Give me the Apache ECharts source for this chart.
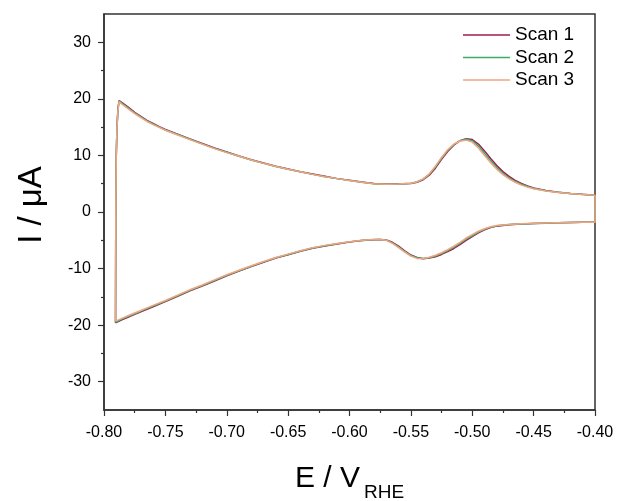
<!DOCTYPE html>
<html>
<head>
<meta charset="utf-8">
<script src="https://cdn.jsdelivr.net/npm/echarts@6/dist/echarts.min.js"></script>
<style>
html,body{margin:0;padding:0;background:#fff;}
#chart{width:617px;height:501px;}
</style>
</head>
<body>
<div id="chart"></div>
<script>
// Potential (V vs RHE) for the forward (upper) and reverse (lower) branches
const upperE = [-0.7906,-0.7904,-0.7900,-0.7894,-0.7886,-0.7877,-0.785,-0.780,-0.775,-0.770,-0.765,-0.760,-0.755,-0.750,-0.740,-0.730,-0.720,-0.710,-0.700,-0.690,-0.680,-0.670,-0.660,-0.650,-0.640,-0.630,-0.620,-0.610,-0.600,-0.590,-0.580,-0.570,-0.560,-0.550,-0.545,-0.540,-0.535,-0.530,-0.525,-0.520,-0.515,-0.510,-0.505,-0.500,-0.495,-0.490,-0.485,-0.480,-0.475,-0.470,-0.465,-0.460,-0.455,-0.450,-0.440,-0.430,-0.420,-0.410,-0.400];
const lowerE = [-0.400,-0.410,-0.420,-0.430,-0.440,-0.450,-0.460,-0.470,-0.480,-0.485,-0.490,-0.495,-0.500,-0.505,-0.510,-0.515,-0.520,-0.525,-0.530,-0.535,-0.540,-0.545,-0.550,-0.555,-0.560,-0.565,-0.570,-0.575,-0.580,-0.590,-0.600,-0.610,-0.620,-0.630,-0.640,-0.650,-0.660,-0.670,-0.680,-0.690,-0.700,-0.710,-0.720,-0.730,-0.740,-0.750,-0.760,-0.765,-0.770,-0.775,-0.780,-0.785,-0.7906];

// Currents (µA)
const scan1Up = [-19.6,0.0,10.0,15.2,18.3,19.7,19.3,18.5,17.6,16.9,16.2,15.65,15.1,14.6,13.75,12.9,12.1,11.3,10.6,9.9,9.25,8.65,8.1,7.6,7.1,6.7,6.3,5.9,5.6,5.3,5.05,4.95,4.95,5.05,5.25,5.7,6.5,7.75,9.3,10.7,11.8,12.6,12.95,12.8,12.0,10.8,9.45,8.2,7.15,6.3,5.6,5.05,4.6,4.25,3.8,3.5,3.28,3.12,2.97];
const scan1Down = [-1.8,-1.83,-1.86,-1.91,-1.97,-2.03,-2.12,-2.27,-2.5,-2.75,-3.15,-3.7,-4.35,-5.0,-5.75,-6.45,-7.0,-7.5,-7.9,-8.15,-8.25,-8.05,-7.6,-6.85,-6.05,-5.35,-4.95,-4.85,-4.9,-5.05,-5.3,-5.65,-6.0,-6.4,-6.95,-7.55,-8.15,-8.9,-9.65,-10.45,-11.3,-12.2,-13.1,-13.95,-14.9,-15.85,-16.75,-17.2,-17.65,-18.1,-18.55,-19.0,-19.6];
const scan2Up = [-19.5,0.0,10.0,15.1,18.2,19.6,19.15,18.35,17.5,16.8,16.1,15.55,15.0,14.5,13.7,12.85,12.05,11.25,10.55,9.85,9.2,8.6,8.05,7.55,7.1,6.65,6.25,5.9,5.55,5.25,5.0,4.9,4.95,5.08,5.3,5.8,6.65,7.95,9.5,10.9,11.9,12.6,12.85,12.6,11.65,10.4,9.05,7.85,6.85,6.05,5.4,4.9,4.5,4.15,3.75,3.47,3.26,3.1,2.95];
const scan2Down = [-1.8,-1.82,-1.85,-1.9,-1.96,-2.02,-2.1,-2.23,-2.45,-2.68,-3.05,-3.55,-4.2,-4.8,-5.55,-6.25,-6.82,-7.35,-7.78,-8.08,-8.23,-8.1,-7.7,-6.98,-6.18,-5.45,-4.98,-4.85,-4.88,-5.02,-5.28,-5.6,-5.95,-6.35,-6.9,-7.5,-8.1,-8.82,-9.58,-10.38,-11.2,-12.1,-13.0,-13.85,-14.8,-15.75,-16.62,-17.08,-17.52,-17.98,-18.42,-18.88,-19.5];
const scan3Up = [-19.3,0.0,10.0,15.0,18.0,19.5,19.0,18.2,17.4,16.7,16.0,15.45,14.95,14.45,13.6,12.8,12.0,11.2,10.5,9.85,9.2,8.6,8.05,7.55,7.1,6.65,6.25,5.9,5.55,5.25,5.0,4.9,4.95,5.1,5.35,5.85,6.75,8.1,9.65,11.0,12.0,12.55,12.7,12.35,11.3,10.0,8.7,7.55,6.6,5.85,5.25,4.75,4.4,4.1,3.7,3.45,3.25,3.1,2.95];
const scan3Down = [-1.8,-1.82,-1.85,-1.9,-1.95,-2.0,-2.08,-2.2,-2.4,-2.6,-2.95,-3.4,-4.0,-4.6,-5.35,-6.05,-6.65,-7.2,-7.65,-8.0,-8.25,-8.2,-7.8,-7.1,-6.3,-5.55,-5.0,-4.85,-4.85,-5.0,-5.25,-5.55,-5.9,-6.3,-6.85,-7.45,-8.05,-8.75,-9.5,-10.3,-11.1,-12.0,-12.9,-13.75,-14.7,-15.65,-16.5,-16.95,-17.4,-17.85,-18.3,-18.75,-19.3];

const seriesNames = ['Scan 1','Scan 2','Scan 3'];
const seriesColors = ['#9c1d4f','#3daa6a','#f0a582'];
const yMajor = [-30,-20,-10,0,10,20,30];
const yMinor = [-25,-15,-5,5,15,25];

function loop(up, down){
  const pts = upperE.map((e,i)=>[e, up[i]]);
  return pts.concat(lowerE.map((e,i)=>[e, down[i]]));
}
const scanData = [loop(scan1Up,scan1Down), loop(scan2Up,scan2Down), loop(scan3Up,scan3Down)];

const FONT = '"Liberation Sans", Arial, sans-serif';
const axisColor = '#333';

const chart = echarts.init(document.getElementById('chart'), null, {renderer:'canvas'});
chart.setOption({
  animation:false,
  backgroundColor:'#fff',
  grid:{left:104, right:22, top:14, bottom:91, show:true, borderColor:axisColor, borderWidth:1.5, backgroundColor:'transparent'},
  legend:{
    data:seriesNames.map(n=>({name:n, icon:'rect'})), orient:'vertical', left:458, top:20,
    itemWidth:47, itemHeight:1.5, itemGap:2.5, padding:[5,5,5,5],
    textStyle:{fontFamily:FONT, fontSize:19, color:'#000', lineHeight:20}
  },
  xAxis:{
    type:'value', min:-0.8, max:-0.4, interval:0.05,
    axisLine:{show:true, onZero:false, lineStyle:{color:axisColor, width:1.5}},
    axisTick:{show:true, length:6, lineStyle:{color:axisColor, width:1.2}},
    minorTick:{show:true, splitNumber:2, length:3, lineStyle:{color:axisColor, width:1.2}},
    axisLabel:{fontFamily:FONT, fontSize:16, color:'#000', margin:15, formatter:v=>v.toFixed(2)},
    splitLine:{show:false}, minorSplitLine:{show:false}
  },
  yAxis:[{
    type:'value', min:-35, max:35,
    axisLine:{show:true, onZero:false, lineStyle:{color:axisColor, width:1.5}},
    axisTick:{show:true, length:6, customValues:yMajor, lineStyle:{color:axisColor, width:1.2}},
    axisLabel:{fontFamily:FONT, fontSize:16, color:'#000', margin:13, customValues:yMajor},
    splitLine:{show:false}
  },{
    type:'value', min:-35, max:35, position:'left',
    axisLine:{show:false, onZero:false},
    axisTick:{show:true, length:3, customValues:yMinor, lineStyle:{color:axisColor, width:1.2}},
    axisLabel:{show:false},
    splitLine:{show:false}
  }],
  graphic:[
    {type:'text', x:295, y:478.6, style:{text:'E / V', fontFamily:FONT, fontSize:30, fill:'#000', textVerticalAlign:'middle', textAlign:'left'}},
    {type:'text', x:364, y:492.7, style:{text:'RHE', fontFamily:FONT, fontSize:19, fill:'#000', textVerticalAlign:'middle', textAlign:'left'}},
    {type:'text', x:32, y:205, rotation:Math.PI/2, style:{text:'I / μA', fontFamily:FONT, fontSize:33, fill:'#000', textVerticalAlign:'middle', textAlign:'center'}}
  ],
  series:seriesNames.map((n,i)=>({
    name:n, type:'line', data:scanData[i], xAxisIndex:0, yAxisIndex:0,
    symbol:'none', smooth:false, clip:true,
    lineStyle:{color:seriesColors[i], width:1.5}, itemStyle:{color:seriesColors[i]}
  }))
});
</script>
</body>
</html>
